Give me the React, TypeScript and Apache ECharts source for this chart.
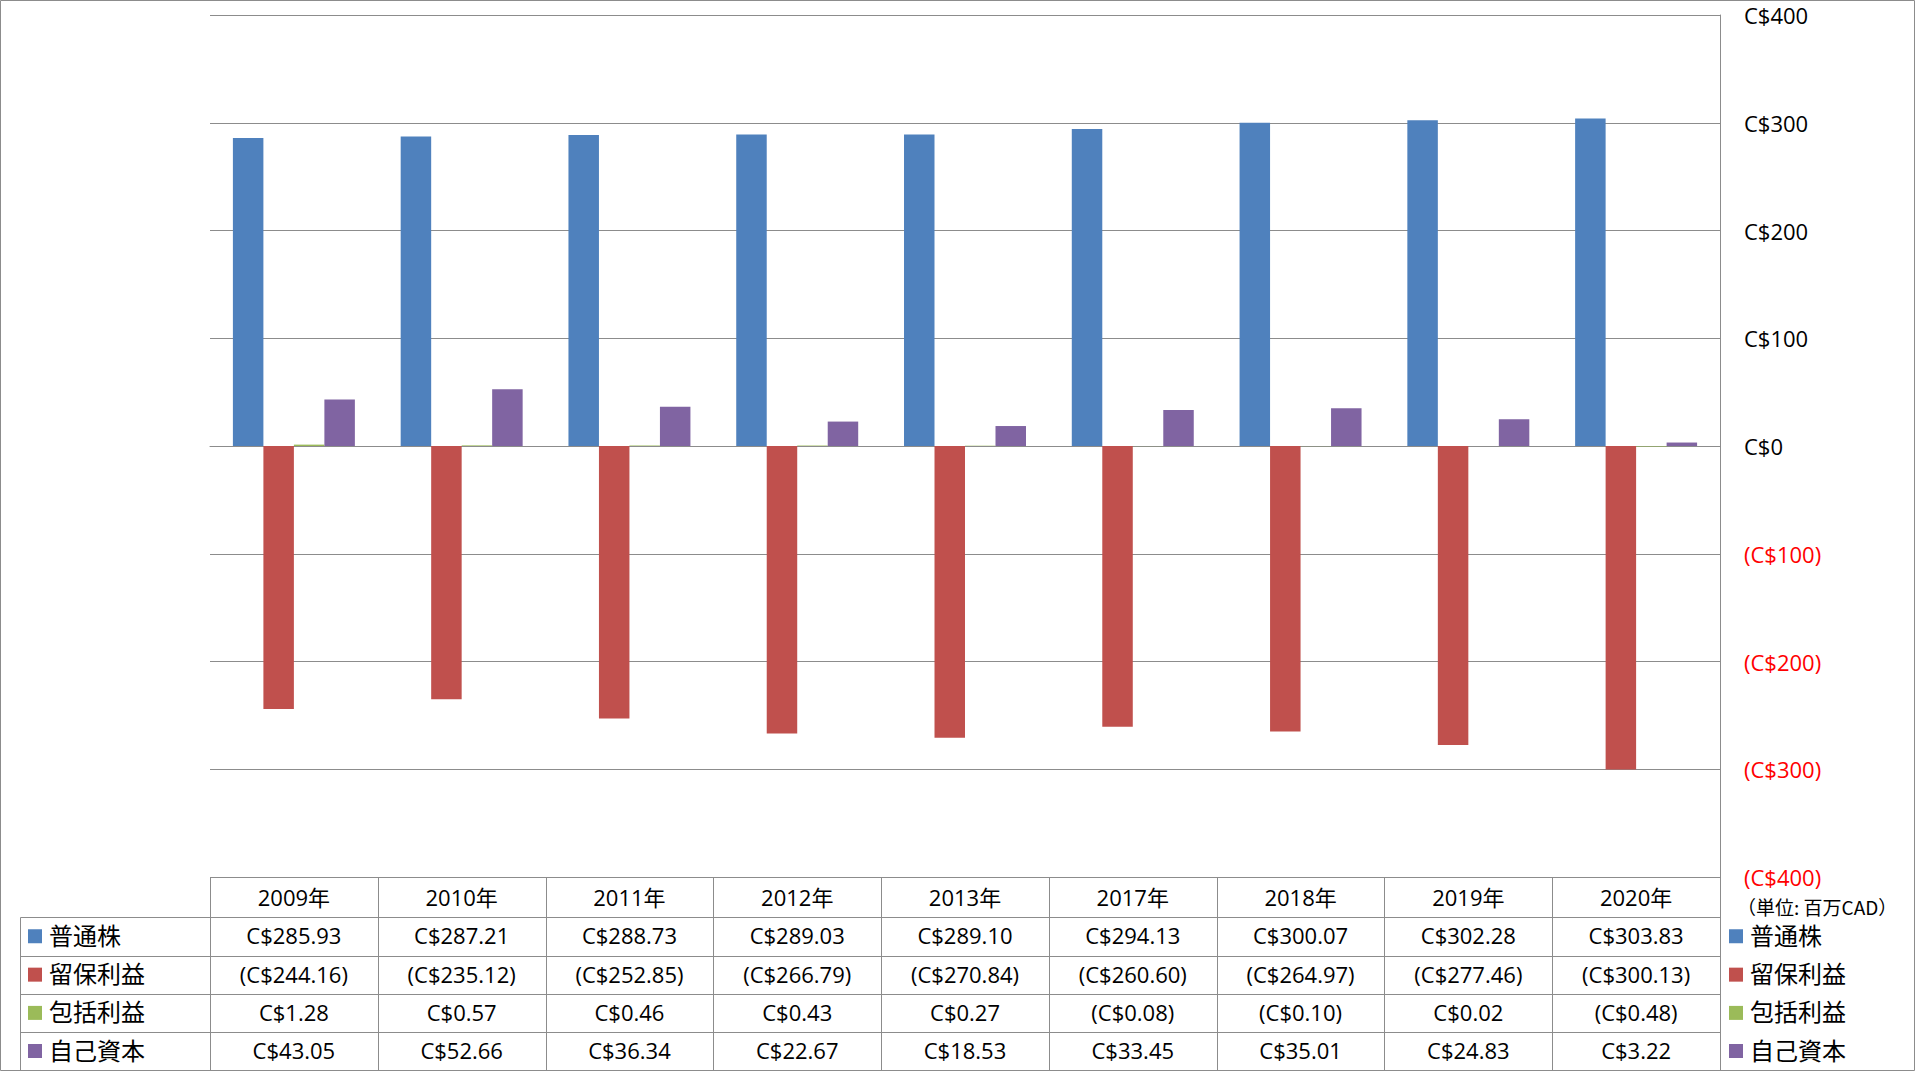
import React, { useEffect, useRef } from "react";
import * as echarts from "echarts";

const categories = ["2009年", "2010年", "2011年", "2012年", "2013年", "2017年", "2018年", "2019年", "2020年"];
const seriesNames = ["普通株", "留保利益", "包括利益", "自己資本"];
const commonStock = [285.93, 287.21, 288.73, 289.03, 289.1, 294.13, 300.07, 302.28, 303.83];
const retainedEarnings = [-244.16, -235.12, -252.85, -266.79, -270.84, -260.6, -264.97, -277.46, -300.13];
const comprehensiveIncome = [1.28, 0.57, 0.46, 0.43, 0.27, -0.08, -0.1, 0.02, -0.48];
const equity = [43.05, 52.66, 36.34, 22.67, 18.53, 33.45, 35.01, 24.83, 3.22];
const seriesColors = ["#4F81BD", "#C0504D", "#9BBB59", "#8064A2"];
const yMin = -400;
const yMax = 400;
const yInterval = 100;
const unitLabel = "（単位: 百万CAD）";

const W = 1915;
const H = 1071;
const GL = 210;
const GR = 1720;
const GT = 15;
const GB = 877;
const LINE = "#8c8c8c";
const NUM_FONT = '"Open Sans", "Noto Sans CJK JP", sans-serif';
const CJK_FONT = '"Noto Sans CJK JP", sans-serif';

function fmt(v: number): string {
  const s = "C$" + Math.abs(v).toFixed(2);
  return v < 0 ? "(" + s + ")" : s;
}

export default function App() {
  const ref = useRef<HTMLDivElement>(null);
  useEffect(() => {
    document.body.style.margin = "0";
    const chart = echarts.init(ref.current as HTMLDivElement, null, { renderer: "svg" });
    const allSeries = [commonStock, retainedEarnings, comprehensiveIncome, equity];
    const n = categories.length;
    const cw = (GR - GL) / n;
    const rowY = [GB, 917, 955.5, 993.8, 1032, 1070];
    const px = (v: number) => Math.round(v) + 0.5;
    const g: any[] = [];
    const line = (x1: number, y1: number, x2: number, y2: number) =>
      g.push({ type: "line", silent: true, shape: { x1, y1, x2, y2 }, style: { stroke: LINE, lineWidth: 1 } });
    const text = (t: string, x: number, y: number, font: string, align: string, color = "#000") =>
      g.push({
        type: "text",
        silent: true,
        x,
        y,
        style: { text: t, font, fill: color, align, verticalAlign: "middle", textAlign: align, textVerticalAlign: "middle" },
      });
    // outer border
    g.push({ type: "rect", silent: true, shape: { x: 0.5, y: 0.5, width: W - 1, height: H - 1 }, style: { fill: "none", stroke: LINE, lineWidth: 1 } });
    // table horizontal lines
    line(GL, px(rowY[0]), GR, px(rowY[0]));
    for (let r = 1; r < rowY.length; r++) line(20.5, px(rowY[r]), GR, px(rowY[r]));
    // table vertical lines
    line(20.5, px(rowY[1]), 20.5, px(rowY[5]));
    for (let i = 0; i <= n; i++) {
      const x = px(GL + i * cw);
      line(x, px(rowY[0]), x, px(rowY[5]));
    }
    // axis line continued through the table
    line(px(GR), GB, px(GR), rowY[5]);
    // header + cells
    for (let i = 0; i < n; i++) {
      const cx = GL + (i + 0.5) * cw;
      text(categories[i], cx, (rowY[0] + rowY[1]) / 2, "22px " + NUM_FONT, "center");
      for (let s = 0; s < 4; s++) {
        text(fmt(allSeries[s][i]), cx, (rowY[s + 1] + rowY[s + 2]) / 2 - 1, "22px " + NUM_FONT, "center");
      }
    }
    // legends
    for (let s = 0; s < 4; s++) {
      const cy = (rowY[s + 1] + rowY[s + 2]) / 2;
      g.push({ type: "rect", silent: true, shape: { x: 28, y: cy - 7, width: 14, height: 14 }, style: { fill: seriesColors[s] } });
      text(seriesNames[s], 49, cy - 2, "24px " + CJK_FONT, "left");
      g.push({ type: "rect", silent: true, shape: { x: 1729, y: cy - 7, width: 14, height: 14 }, style: { fill: seriesColors[s] } });
      text(seriesNames[s], 1750, cy - 2, "24px " + CJK_FONT, "left");
    }
    text(unitLabel, 1737, 906, "19px " + CJK_FONT, "left");

    chart.setOption({
      animation: false,
      backgroundColor: "#ffffff",
      grid: { left: GL, right: W - GR, top: GT, bottom: H - GB, containLabel: false },
      xAxis: {
        type: "category",
        data: categories,
        axisLine: { show: true, onZero: true, lineStyle: { color: LINE, width: 1 } },
        axisTick: { show: false },
        axisLabel: { show: false },
        splitLine: { show: false },
      },
      yAxis: {
        type: "value",
        position: "right",
        min: yMin,
        max: yMax,
        interval: yInterval,
        axisLine: { show: true, lineStyle: { color: LINE, width: 1 } },
        axisTick: { show: false },
        splitLine: { show: true, lineStyle: { color: LINE, width: 1 } },
        axisLabel: {
          margin: 24,
          align: "left",
          formatter: (v: number) => (v < 0 ? "{n|(C$" + -v + ")}" : "{p|C$" + v + "}"),
          rich: {
            n: { color: "#ff0000", fontSize: 22, fontFamily: NUM_FONT },
            p: { color: "#000000", fontSize: 22, fontFamily: NUM_FONT },
          },
        },
      },
      series: allSeries.map((d, s) => ({
        name: seriesNames[s],
        type: "bar",
        data: d,
        barGap: "0%",
        barCategoryGap: "27.3%",
        itemStyle: { color: seriesColors[s] },
      })),
      graphic: g,
    });
    return () => chart.dispose();
  }, []);
  return <div ref={ref} style={{ width: W, height: H }} />;
}
